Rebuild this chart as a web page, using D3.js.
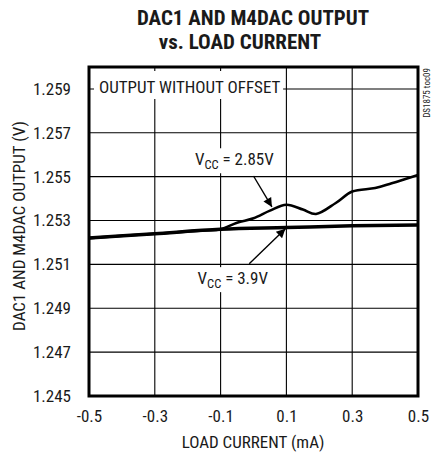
<!DOCTYPE html>
<html>
<head>
<meta charset="utf-8">
<script src="https://cdn.jsdelivr.net/npm/d3@7"></script>
<style>
  html, body { margin: 0; padding: 0; background: #fff; }
  svg { display: block; }
  text { font-family: "Liberation Sans Narrow", "Arial Narrow", "Roboto Condensed", "Liberation Sans", sans-serif; fill: #1a1a1a; }
</style>
</head>
<body>
<svg id="chart" width="435" height="454"></svg>
<script>
// ---- data ----
const xTicks = [-0.5, -0.3, -0.1, 0.1, 0.3, 0.5];
const yTicks = [1.245, 1.247, 1.249, 1.251, 1.253, 1.255, 1.257, 1.259];
const yTickLabels = ["1.245", "1.247", "1.249", "1.251", "1.253", "1.255", "1.257", "1.259"];
const xTickLabels = ["-0.5", "-0.3", "-0.1", "0.1", "0.3", "0.5"];

const x285 = [-0.5, -0.3, -0.15, -0.1, -0.05, 0.0, 0.05, 0.1, 0.15, 0.19, 0.25, 0.3, 0.37, 0.42, 0.5];
const y285 = [1.2522, 1.2524, 1.25255, 1.2526, 1.2529, 1.2531, 1.25345, 1.25372, 1.2535, 1.2533, 1.2538, 1.25432, 1.25448, 1.2547, 1.25508];

const x39 = [-0.5, -0.3, -0.1, 0.1, 0.3, 0.5];
const y39 = [1.2522, 1.2524, 1.2526, 1.25268, 1.25276, 1.2528];

const titleLines = ["DAC1 AND M4DAC OUTPUT", "vs. LOAD CURRENT"];
const xTitle = "LOAD CURRENT (mA)";
const yTitle = "DAC1 AND M4DAC OUTPUT (V)";
const boxLabel = "OUTPUT WITHOUT OFFSET";
const docId = "DS1875 toc09";

// ---- layout ----
const svg = d3.select("#chart");
const L = 89, R = 418, T = 67, B = 396;
const x = d3.scaleLinear().domain([-0.5, 0.5]).range([L, R]);
const y = d3.scaleLinear().domain([1.245, 1.260]).range([B, T]);

// title
svg.append("text").attr("x", 253).attr("y", 25).attr("text-anchor", "middle")
  .style("font-weight", "bold").style("font-size", "21px").text(titleLines[0]);
svg.append("text").attr("x", 240).attr("y", 49).attr("text-anchor", "middle")
  .style("font-weight", "bold").style("font-size", "21px").text(titleLines[1]);

// grid
const g = svg.append("g");
g.selectAll(".vg").data(xTicks.slice(1, -1)).join("line")
  .attr("x1", d => x(d)).attr("x2", d => x(d)).attr("y1", T).attr("y2", B)
  .attr("stroke", "#000").attr("stroke-width", 1.1);
g.selectAll(".hg").data(yTicks.slice(1)).join("line")
  .attr("x1", L).attr("x2", R).attr("y1", d => y(d)).attr("y2", d => y(d))
  .attr("stroke", "#000").attr("stroke-width", 1.1);

// axes tick labels via d3 axes
const xAxis = d3.axisBottom(x).tickValues(xTicks).tickFormat((d, i) => xTickLabels[i]).tickSize(0).tickPadding(14);
const yAxis = d3.axisLeft(y).tickValues(yTicks).tickFormat((d, i) => yTickLabels[i]).tickSize(0).tickPadding(18);
const xa = svg.append("g").attr("transform", `translate(0,${B})`).call(xAxis);
const ya = svg.append("g").attr("transform", `translate(${L},0)`).call(yAxis);
[xa, ya].forEach(a => { a.select(".domain").remove(); a.selectAll("text").style("font-size", "17px").style("font-family", null).attr("fill", "#1a1a1a"); });

// box label (white background)
svg.append("rect").attr("x", L + 5).attr("y", T + 4).attr("width", x(0.09) - L - 5).attr("height", 28).attr("fill", "#fff");
svg.append("text").attr("x", L + 10).attr("y", T + 26).style("font-size", "17px").text(boxLabel);

// annotation labels with white background
function vccLabel(cx, by, val) {
  const t = svg.append("text").attr("x", cx).attr("y", by).style("font-size", "17px");
  t.append("tspan").text("V");
  t.append("tspan").attr("dy", 4).style("font-size", "12.5px").text("CC");
  t.append("tspan").attr("dy", -4).text(" = " + val);
  const bb = t.node().getBBox();
  svg.insert("rect", function() { return t.node(); })
    .attr("x", bb.x - 3).attr("y", bb.y - 1).attr("width", bb.width + 6).attr("height", bb.height + 2).attr("fill", "#fff");
}
vccLabel(x(-0.178), y(1.25552), "2.85V");
vccLabel(x(-0.17), y(1.2501), "3.9V");

// arrows
svg.append("defs").append("marker").attr("id", "ah").attr("viewBox", "0 0 10 10")
  .attr("refX", 10).attr("refY", 5).attr("markerWidth", 14).attr("markerHeight", 9)
  .attr("markerUnits", "userSpaceOnUse").attr("orient", "auto")
  .append("path").attr("d", "M0,0 L10,5 L0,10 Z").attr("fill", "#000");
svg.append("line").attr("x1", x(0.0)).attr("y1", y(1.25503)).attr("x2", x(0.056)).attr("y2", y(1.25362))
  .attr("stroke", "#000").attr("stroke-width", 1.4).attr("marker-end", "url(#ah)");
svg.append("line").attr("x1", x(-0.013)).attr("y1", y(1.25103)).attr("x2", x(0.097)).attr("y2", y(1.25263))
  .attr("stroke", "#000").attr("stroke-width", 1.4).attr("marker-end", "url(#ah)");

// curves
const line = d3.line().x(d => x(d[0])).y(d => y(d[1])).curve(d3.curveMonotoneX);
svg.append("path").datum(x39.map((v, i) => [v, y39[i]])).attr("d", line)
  .attr("fill", "none").attr("stroke", "#000").attr("stroke-width", 3.5);
svg.append("path").datum(x285.map((v, i) => [v, y285[i]])).attr("d", d3.line().x(d => x(d[0])).y(d => y(d[1])).curve(d3.curveCatmullRom))
  .attr("fill", "none").attr("stroke", "#000").attr("stroke-width", 2.6);

// frame
svg.append("rect").attr("x", L).attr("y", T).attr("width", R - L).attr("height", B - T)
  .attr("fill", "none").attr("stroke", "#000").attr("stroke-width", 3);

// axis titles
svg.append("text").attr("x", 253).attr("y", 448).attr("text-anchor", "middle").style("font-size", "17px").text(xTitle);
svg.append("text").attr("transform", "translate(25,226) rotate(-90)").attr("text-anchor", "middle").style("font-size", "17px").text(yTitle);
svg.append("text").attr("transform", "translate(430,68) rotate(-90)").attr("text-anchor", "end").style("font-size", "9px").text(docId);
</script>
</body>
</html>
